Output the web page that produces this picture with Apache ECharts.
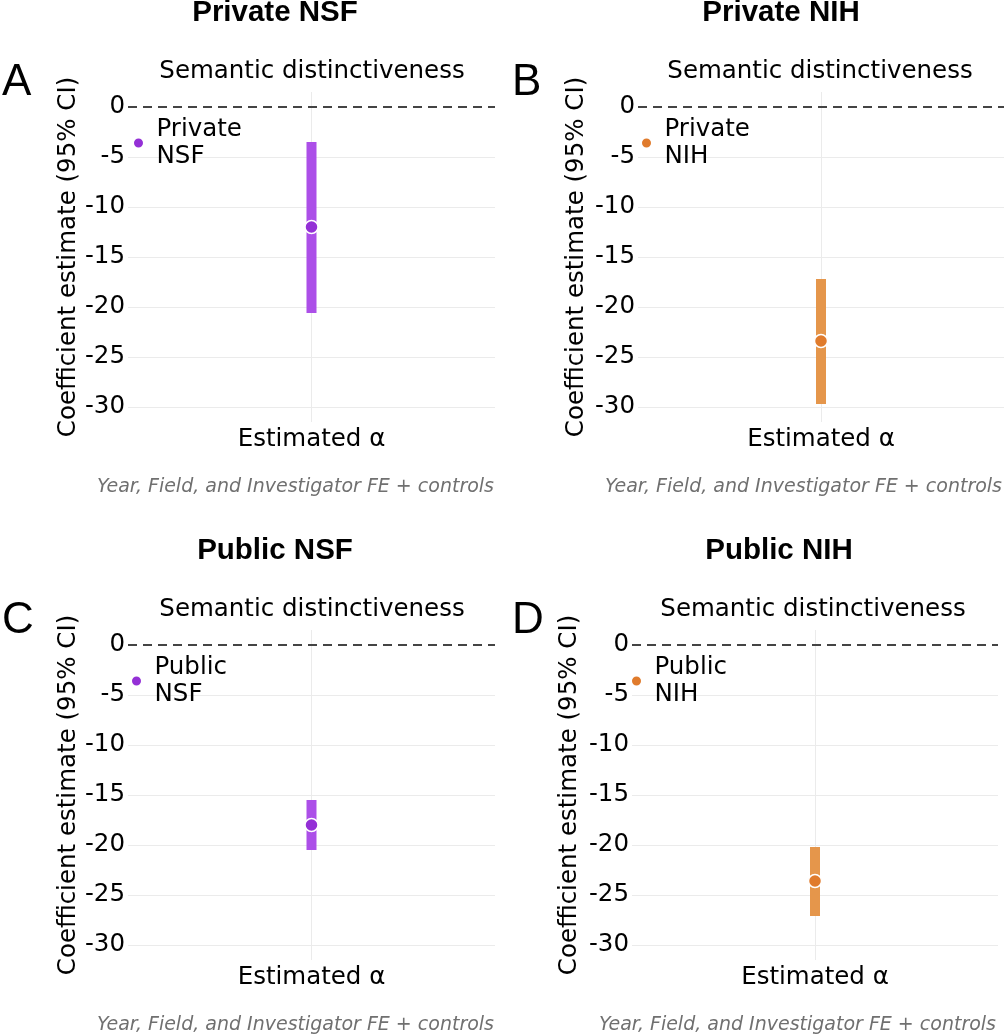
<!DOCTYPE html>
<html lang="en">
<head>
<meta charset="utf-8">
<title>Semantic distinctiveness</title>
<script src="https://cdn.jsdelivr.net/npm/echarts@6.0.0/dist/echarts.min.js"></script>
<style>
  html, body { margin: 0; padding: 0; background: #fff; }
  #chart { width: 1004px; height: 1035px; }
</style>
</head>
<body>
<div id="chart"></div>
<script>
// data
var panelTitles = ['Private NSF', 'Private NIH', 'Public NSF', 'Public NIH'];
var panelLetters = ['A', 'B', 'C', 'D'];
var categories = ['Estimated α'];
var estimates = [-12.0, -23.4, -18.0, -23.6];
var ciLow = [-20.6, -29.7, -20.5, -27.1];
var ciHigh = [-3.5, -17.2, -15.5, -20.2];
var yTicks = [0, -5, -10, -15, -20, -25, -30];

// layout of the four panels (pixels)
var layout = [
  { gx: 128, gy: 92, gw: 367, title: 275, sub: 312, letter: 2, name: 67, cap: 494, leg: 138 },
  { gx: 638, gy: 92, gw: 366, title: 781, sub: 820, letter: 512, name: 575, cap: 1002, leg: 646 },
  { gx: 128, gy: 630, gw: 367, title: 275, sub: 312, letter: 2, name: 67, cap: 494, leg: 136 },
  { gx: 632, gy: 630, gw: 366, title: 779, sub: 813, letter: 512, name: 568, cap: 996, leg: 636 }
];
var GH = 330;
var pointColors = ['#9430D6', '#E07B2C', '#9430D6', '#E07B2C'];
var barColors = ['#AC4FE8', '#E5964B', '#AC4FE8', '#E5964B'];
var txtFont = '"DejaVu Sans", sans-serif';

var chart = echarts.init(document.getElementById('chart'));

var grids = [], xAxes = [], yAxes = [], series = [], legends = [], graphics = [];

layout.forEach(function (p, i) {
  var top = p.gy;
  grids.push({ left: p.gx, top: top, width: p.gw, height: GH });

  xAxes.push({
    type: 'category', gridIndex: i, data: categories,
    axisLine: { show: false }, axisTick: { show: false }, splitLine: { show: false },
    axisLabel: { margin: 5, color: '#000', fontSize: 24.5, fontFamily: txtFont }
  });
  yAxes.push({
    type: 'value', gridIndex: i, min: -31.5, max: 1.5,
    axisLine: { show: false }, axisTick: { show: false }, splitLine: { show: false },
    axisLabel: {
      customValues: yTicks, margin: 3, color: '#000',
      fontSize: 24.5, fontFamily: txtFont
    }
  });

  // gridlines behind the marks
  series.push({
    type: 'line', xAxisIndex: i, yAxisIndex: i, data: [], z: 1, silent: true,
    markLine: {
      silent: true, symbol: ['none', 'none'], animation: false, z: 1,
      label: { show: false },
      lineStyle: { color: '#EBEBEB', width: 1, type: 'solid' },
      data: yTicks.filter(function (v) { return v !== 0; })
        .map(function (v) { return { yAxis: v }; })
        .concat([{ xAxis: categories[0] }])
    }
  });

  // confidence interval bar
  series.push({
    type: 'custom', xAxisIndex: i, yAxisIndex: i, z: 3, silent: true,
    encode: { x: 0, y: [1, 2] },
    data: [[0, ciLow[i], ciHigh[i]]],
    renderItem: function (params, api) {
      var lo = api.coord([api.value(0), api.value(1)]);
      var hi = api.coord([api.value(0), api.value(2)]);
      return {
        type: 'rect',
        shape: { x: lo[0] - 5, y: hi[1], width: 10, height: lo[1] - hi[1] },
        style: { fill: barColors[i] }
      };
    },
    markLine: {
      silent: true, symbol: ['none', 'none'], animation: false, z: 2,
      label: { show: false },
      lineStyle: { color: '#444', width: 1.8, type: [9, 6] },
      data: [{ yAxis: 0 }]
    }
  });

  // point estimate
  series.push({
    type: 'scatter', name: panelTitles[i], xAxisIndex: i, yAxisIndex: i, z: 4,
    symbol: 'circle', symbolSize: 13,
    itemStyle: { color: pointColors[i], borderColor: '#fff', borderWidth: 1.5, opacity: 1 },
    data: [[0, estimates[i]]]
  });

  legends.push({
    data: [panelTitles[i]], left: p.leg - 6, top: top + 24, padding: 0,
    itemWidth: 26, itemHeight: 11, selectedMode: false,
    formatter: function (n) { return n.replace(' ', '\n'); },
    textStyle: { fontSize: 24.5, fontFamily: txtFont, color: '#000', lineHeight: 27 }
  });

  graphics.push(
    { type: 'text', x: p.title, y: top - 79,
      style: { text: panelTitles[i], align: 'center', verticalAlign: 'middle',
        font: 'bold 29.5px "Liberation Sans", Arial, sans-serif', fill: '#000' } },
    { type: 'text', x: p.sub, y: top - 20,
      style: { text: 'Semantic distinctiveness', align: 'center', verticalAlign: 'middle',
        font: '24.5px ' + txtFont, fill: '#000' } },
    { type: 'text', x: p.letter, y: top - 9,
      style: { text: panelLetters[i], align: 'left', verticalAlign: 'middle',
        font: '44px "Liberation Sans", Arial, sans-serif', fill: '#000' } },
    { type: 'text', x: p.name + 2, y: top + GH / 2, rotation: Math.PI / 2,
      style: { text: 'Coefficient estimate (95% CI)', align: 'center', verticalAlign: 'middle',
        font: '24.5px ' + txtFont, fill: '#000' } },
    { type: 'text', x: p.cap, y: top + 395,
      style: { text: 'Year, Field, and Investigator FE + controls', align: 'right', verticalAlign: 'middle',
        font: 'italic 19px ' + txtFont, fill: '#707070' } }
  );
});

chart.setOption({
  animation: false,
  grid: grids,
  xAxis: xAxes,
  yAxis: yAxes,
  legend: legends,
  series: series,
  graphic: graphics
});
</script>
</body>
</html>
